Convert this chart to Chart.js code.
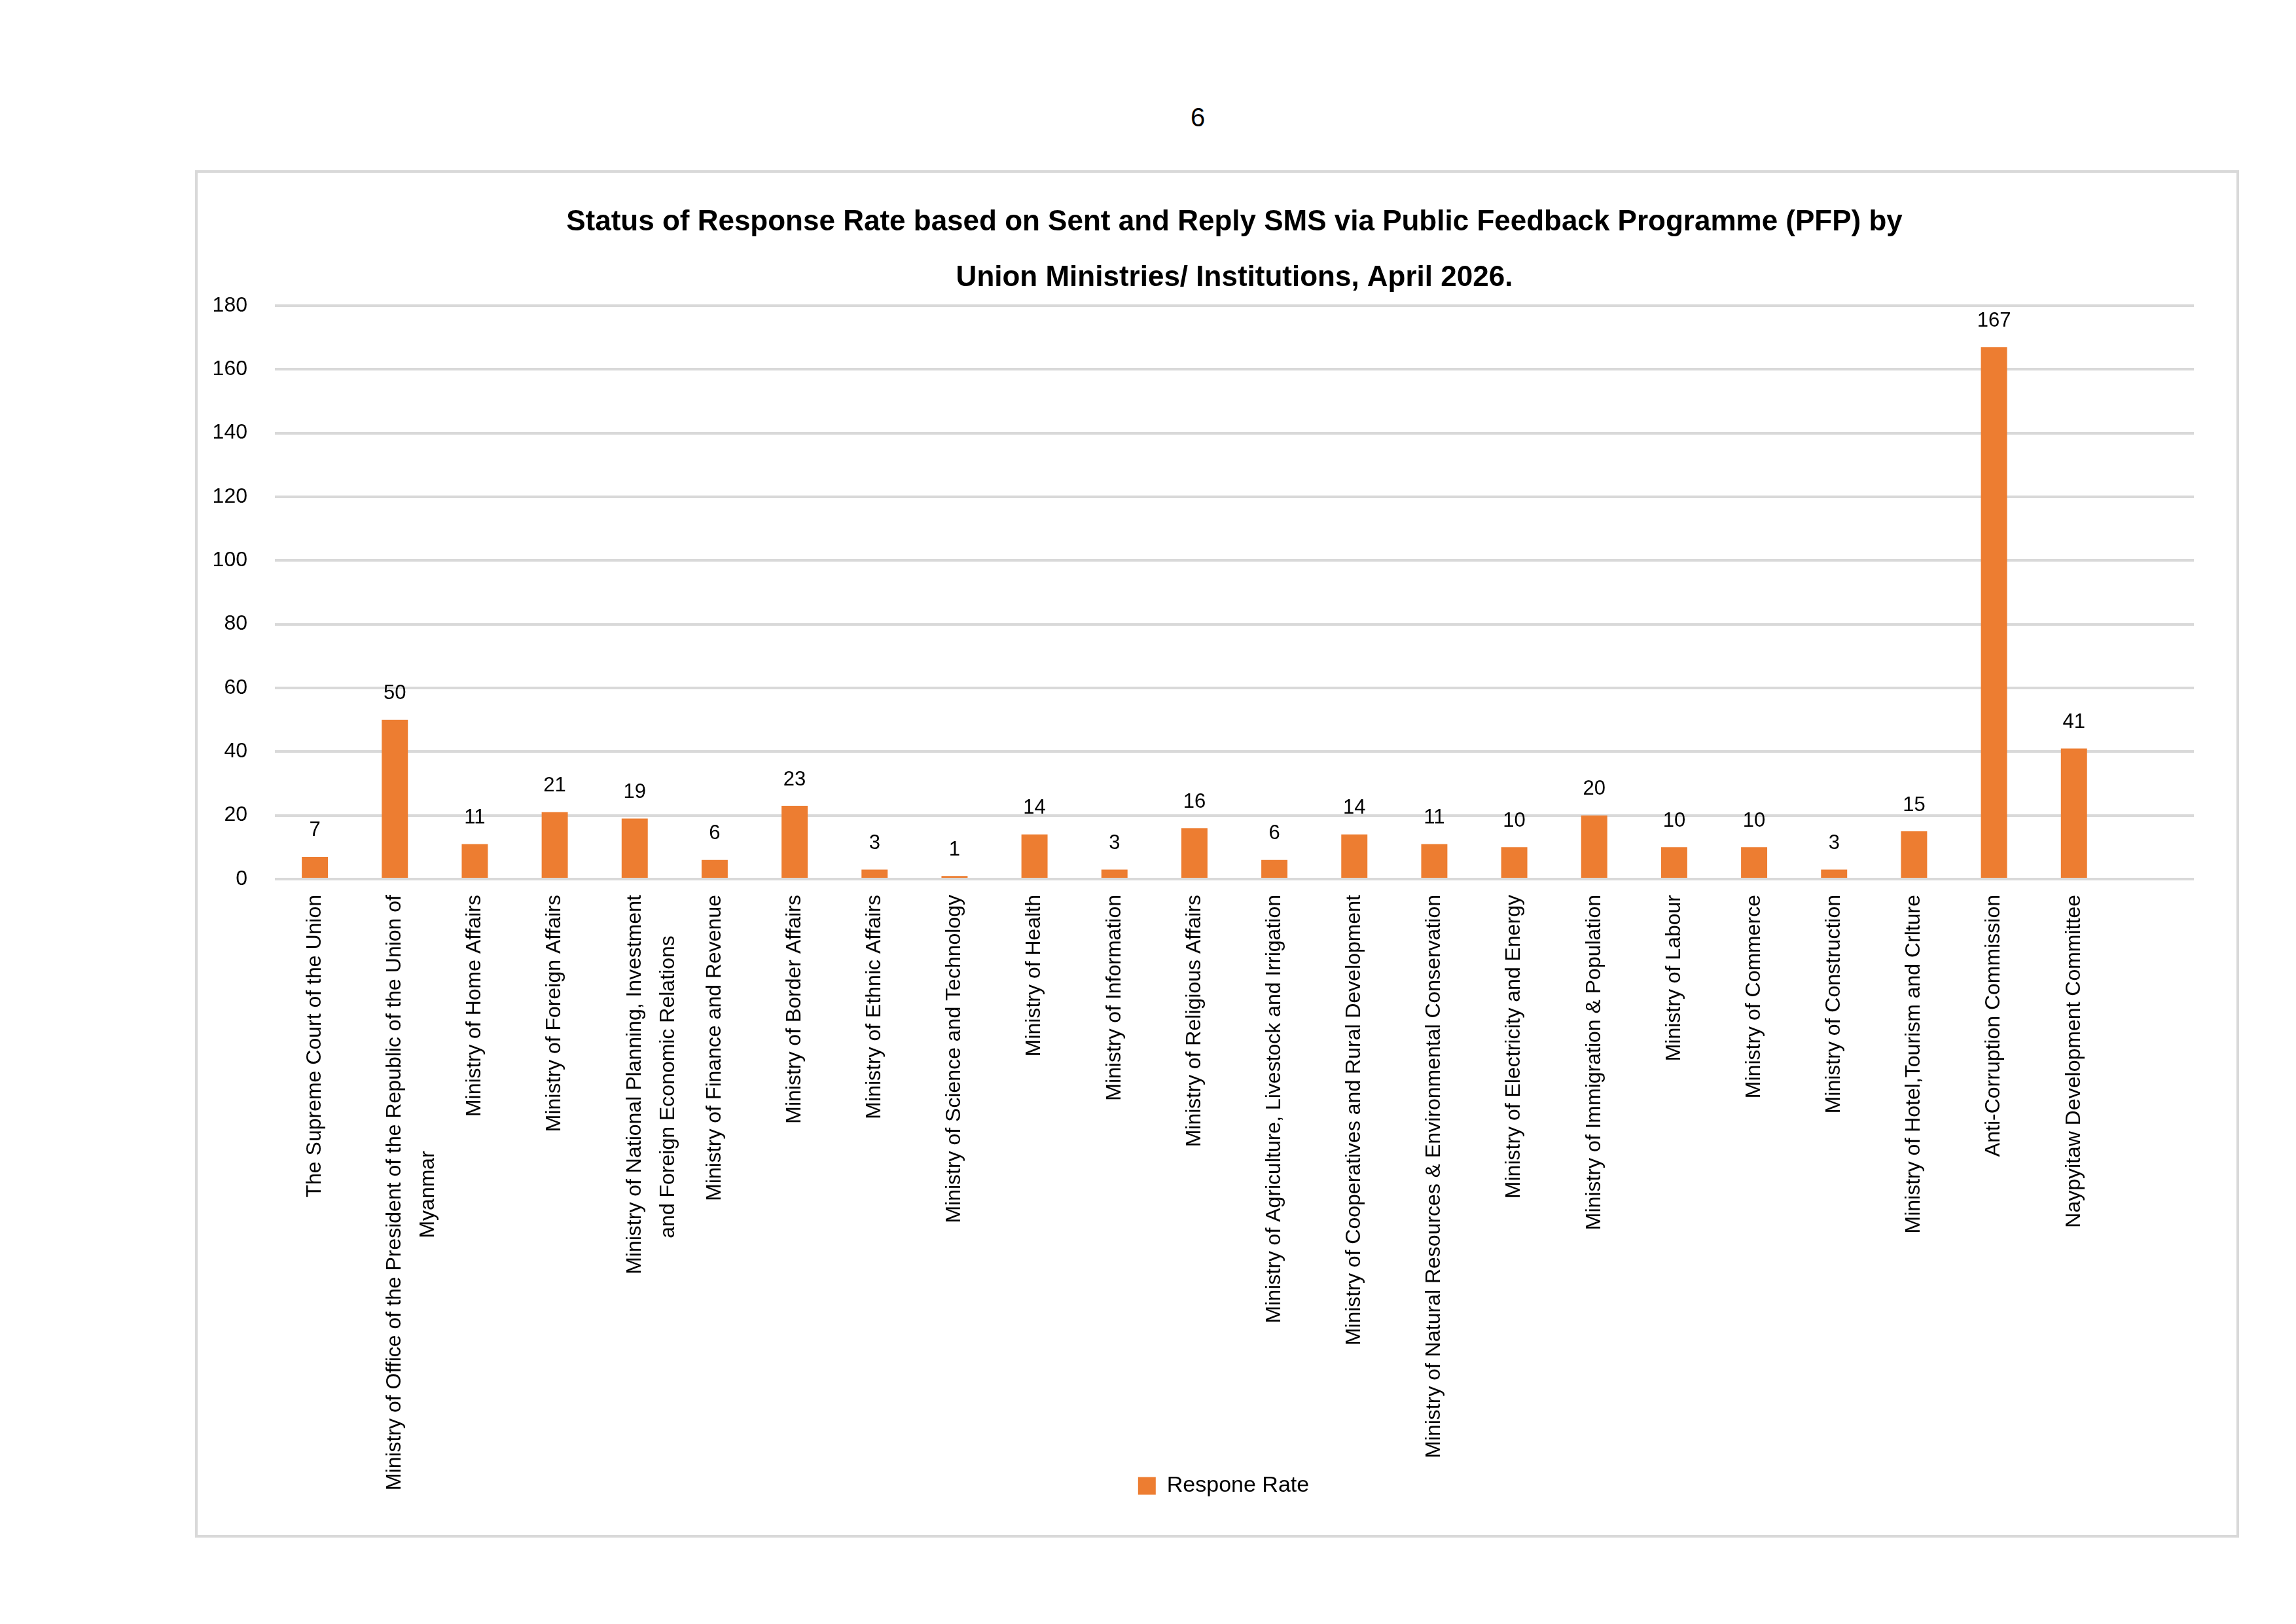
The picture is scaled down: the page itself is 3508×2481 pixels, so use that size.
<!DOCTYPE html>
<html>
<head>
<meta charset="utf-8">
<script src="https://cdn.jsdelivr.net/npm/chart.js@4.4.1/dist/chart.umd.min.js"></script>
<style>
html, body { margin: 0; padding: 0; background: #fff; }
body { width: 3508px; height: 2481px; position: relative; overflow: hidden; font-family: "Liberation Sans", Arial, sans-serif; }
#page { position: absolute; left: 1780px; width: 100px; top: 152px; text-align: center; font-size: 40px; line-height: 54px; color: #000; }
#frame { position: absolute; left: 298px; top: 260px; width: 3123px; height: 2089px; box-sizing: border-box; border: 4px solid #d9d9d9; }
#chart { position: absolute; left: 302px; top: 264px; }
</style>
</head>
<body>
<div id="page">6</div>
<div id="frame"></div>
<canvas id="chart" width="3115" height="2081"></canvas>
<script>
// ---- data ----
const titleLines = [
  "Status of Response Rate based on Sent and Reply SMS via Public Feedback Programme (PFP) by",
  "Union Ministries/ Institutions, April 2026."
];
const seriesName = "Respone Rate";
const categories = [
  "The Supreme Court of the Union",
  ["Ministry of Office of the President of the Republic of the Union of", "Myanmar"],
  "Ministry of Home Affairs",
  "Ministry of Foreign Affairs",
  ["Ministry of National Planning, Investment", "and Foreign Economic Relations"],
  "Ministry of Finance and Revenue",
  "Ministry of Border Affairs",
  "Ministry of Ethnic Affairs",
  "Ministry of Science and Technology",
  "Ministry of Health",
  "Ministry of Information",
  "Ministry of Religious Affairs",
  "Ministry of Agriculture, Livestock and Irrigation",
  "Ministry of Cooperatives and Rural Development",
  "Ministry of Natural Resources & Environmental Conservation",
  "Ministry of Electricity and Energy",
  "Ministry of Immigration & Population",
  "Ministry of Labour",
  "Ministry of Commerce",
  "Ministry of Construction",
  "Ministry of Hotel,Tourism and Crlture",
  "Anti-Corruption Commission",
  "Naypyitaw Development Committee",
  ""
];
const responseRate = [7, 50, 11, 21, 19, 6, 23, 3, 1, 14, 3, 16, 6, 14, 11, 10, 20, 10, 10, 3, 15, 167, 41, null];
const yTickValues = [0, 20, 40, 60, 80, 100, 120, 140, 160, 180];

// ---- styling / layout ----
const FONT = '"Liberation Sans", Arial, sans-serif';
const BAR_COLOR = '#ED7D31';
const GRID_COLOR = '#d9d9d9';
const PAD_LEFT = 20;
const PLOT_LEFT = 118;
const PLOT_RIGHT_GAP = 65;
const PLOT_BOTTOM = 1079;
const PAD_BOTTOM = 48;
const XFONT = 32;

Chart.defaults.font.family = FONT;
Chart.defaults.color = '#000';

const measureCtx = document.createElement('canvas').getContext('2d');
function centerLines(label) {
  if (!Array.isArray(label)) return label;
  measureCtx.font = XFONT + 'px ' + FONT;
  const widths = label.map(l => measureCtx.measureText(l).width);
  const maxW = Math.max.apply(null, widths);
  const sp = measureCtx.measureText(' ').width;
  return label.map((l, i) => l + ' '.repeat(Math.round((maxW - widths[i]) / 2 / sp)));
}

const valueLabels = {
  id: 'valueLabels',
  afterDatasetsDraw(chart) {
    const ctx = chart.ctx;
    const meta = chart.getDatasetMeta(0);
    ctx.save();
    ctx.font = '31px ' + FONT;
    ctx.fillStyle = '#000';
    ctx.textAlign = 'center';
    ctx.textBaseline = 'middle';
    meta.data.forEach((bar, i) => {
      if (responseRate[i] == null) return;
      ctx.fillText(String(responseRate[i]), bar.x, bar.y - 40);
    });
    ctx.restore();
  }
};

// let the rotated category labels run down past the legend row (as in the original)
const extendTickArea = {
  id: 'extendTickArea',
  afterLayout(chart) {
    const xs = chart.scales.x;
    xs.bottom = chart.height;
    xs.height = xs.bottom - xs.top;
  }
};

new Chart(document.getElementById('chart'), {
  type: 'bar',
  data: {
    labels: categories,
    datasets: [{
      label: seriesName,
      data: responseRate,
      backgroundColor: BAR_COLOR,
      borderWidth: 0,
      barPercentage: 0.327,
      categoryPercentage: 1
    }]
  },
  options: {
    responsive: false,
    animation: false,
    devicePixelRatio: 1,
    layout: { padding: { left: PAD_LEFT, right: 0, top: 0, bottom: PAD_BOTTOM } },
    scales: {
      x: {
        grid: { display: false },
        border: { display: false },
        ticks: {
          autoSkip: false,
          minRotation: 90,
          maxRotation: 90,
          padding: 16,
          color: '#000',
          font: { size: XFONT, lineHeight: 1.6 },
          callback: function (value) { return centerLines(this.getLabelForValue(value)); }
        },
        afterFit: s => { s.height = s.chart.height - PAD_BOTTOM - s.chart.legend.height - PLOT_BOTTOM; }
      },
      y: {
        min: 0,
        max: 180,
        grid: { color: GRID_COLOR, lineWidth: 4, drawTicks: false },
        border: { display: false },
        ticks: { padding: 42, color: '#000', font: { size: 32 } },
        afterBuildTicks: s => { s.ticks = yTickValues.map(v => ({ value: v })); },
        afterFit: s => { s.width = PLOT_LEFT - PAD_LEFT; }
      },
      yRight: {
        position: 'right',
        display: true,
        grid: { display: false },
        border: { display: false },
        ticks: { display: false },
        afterFit: s => { s.width = PLOT_RIGHT_GAP; }
      }
    },
    plugins: {
      title: {
        display: true,
        fullSize: false,
        text: titleLines,
        color: '#000',
        font: { size: 44, weight: 'bold', lineHeight: 85 / 44 },
        padding: { top: 33, bottom: 0 }
      },
      legend: {
        position: 'bottom',
        labels: { boxWidth: 27, boxHeight: 27, padding: 10, color: '#000', font: { size: 34 } }
      },
      tooltip: { enabled: false }
    }
  },
  plugins: [valueLabels, extendTickArea]
});
</script>
</body>
</html>
